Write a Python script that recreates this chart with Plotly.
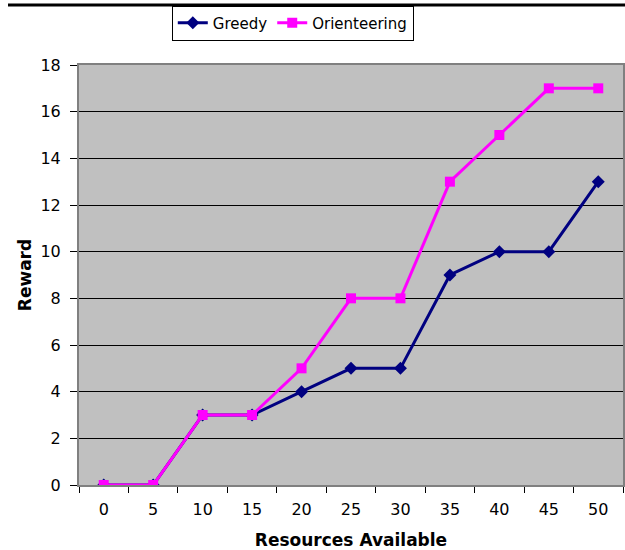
import plotly.graph_objects as go

resources = ["0", "5", "10", "15", "20", "25", "30", "35", "40", "45", "50"]
greedy = [0, 0, 3, 3, 4, 5, 5, 9, 10, 10, 13]
orienteering = [0, 0, 3, 3, 5, 8, 8, 13, 15, 17, 17]

FONT = "DejaVu Sans"

fig = go.Figure()
fig.add_trace(go.Scatter(
    x=resources, y=greedy, name="Greedy", mode="lines+markers",
    line=dict(color="#000080", width=3),
    marker=dict(symbol="diamond", size=10, color="#000080"),
))
fig.add_trace(go.Scatter(
    x=resources, y=orienteering, name="Orienteering", mode="lines+markers",
    line=dict(color="#FF00FF", width=3),
    marker=dict(symbol="square", size=10, color="#FF00FF"),
))

fig.update_layout(
    width=625, height=550,
    margin=dict(l=79, r=2, t=65, b=65),
    paper_bgcolor="white", plot_bgcolor="#C0C0C0",
    font=dict(family=FONT, size=16, color="black"),
    showlegend=True,
    legend=dict(
        orientation="h", x=0.393, y=1.1, xanchor="center", yanchor="middle",
        bordercolor="black", borderwidth=1, bgcolor="white",
        font=dict(family=FONT, size=15), itemwidth=30, tracegroupgap=0,
    ),
    xaxis=dict(
        type="category", range=[-0.5, 10.5], tickson="boundaries",
        ticks="outside", ticklen=6, tickcolor="black", automargin=False,
        ticklabelstandoff=9,
        showgrid=False, showline=True, linecolor="#808080", linewidth=2, mirror=True,
        title=dict(text="<b>Resources Available</b>", font=dict(family=FONT, size=17), standoff=17),
        tickfont=dict(size=16),
    ),
    yaxis=dict(
        range=[0, 18], dtick=2, ticks="outside", ticklen=7, tickcolor="black",
        automargin=False, ticklabelstandoff=6,
        showgrid=True, gridcolor="black", gridwidth=1, zeroline=False,
        showline=True, linecolor="#808080", linewidth=2, mirror=True,
        title=dict(text="<b>Reward</b>", font=dict(family=FONT, size=17), standoff=4),
        tickfont=dict(size=16),
    ),
    shapes=[dict(
        type="line", xref="paper", yref="paper",
        x0=-0.1305, x1=1.004, y0=1.1429, y1=1.1429,
        line=dict(color="black", width=3),
    )],
)

fig.write_html(
    "out.html",
    config={"displayModeBar": False},
    post_script="document.body.style.margin='0';document.body.style.overflow='hidden';",
)
